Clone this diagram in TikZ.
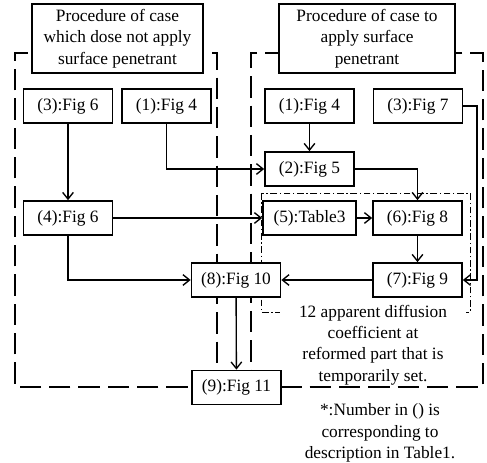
\documentclass[tikz,border=0pt]{standalone}
\usepackage{fontspec}
\setmainfont{Liberation Serif}
\usetikzlibrary{arrows.meta}

\begin{document}
\begin{tikzpicture}[x=0.75pt, y=-0.75pt,
	font=\fontsize{13}{16}\selectfont,
	box/.style={draw, line width=1.3pt, fill=white, inner sep=0pt,
		minimum width=66.75pt, minimum height=25.5pt},
	title/.style={box, align=center, minimum height=51.75pt},
	arr/.style={-{Straight Barb[length=5pt, width=8pt]}, line width=1pt},
	region/.style={line width=2.2pt, dash pattern=on 16pt off 6pt},
	reform/.style={line width=0.6pt, dash pattern=on 5pt off 2pt on 1pt off 2pt}
]
\useasboundingbox (0, 0) rectangle (487, 463);

% part reformed by the penetrant
\draw[reform] (261, 193) rectangle (470, 312);
\node[fill=white, align=center, inner sep=0pt, minimum width=140pt] (note) at (373, 345)
	{12 apparent diffusion\\coefficient at\\reformed part that is\\temporarily set.};

% the two procedures
\draw[region] (217, 387) -- (15, 387) -- (15, 53) -- (217, 53) -- cycle;
\draw[region] (251, 387) -- (483, 387) -- (483, 53) -- (251, 53) -- cycle;

\node[title, minimum width=128.25pt] (tL) at (117.5, 38.5)
	{Procedure of case\\which dose not apply\\surface penetrant};
\node[title, minimum width=132pt] (tR) at (367, 38.5)
	{Procedure of case to\\apply surface\\penetrant};

\node[box] (a3) at (68, 106) {(3):Fig 6};
\node[box] (a1) at (166.5, 106) {(1):Fig 4};
\node[box] (b1) at (309.5, 106) {(1):Fig 4};
\node[box] (b3) at (418, 106) {(3):Fig 7};
\node[box] (b2) at (309.5, 169) {(2):Fig 5};
\node[box] (a4) at (68, 218) {(4):Fig 6};
\node[box, minimum width=69.75pt] (b5) at (309.5, 218) {(5):Table3};
\node[box] (b6) at (417.5, 218) {(6):Fig 8};
\node[box] (b7) at (417.5, 280) {(7):Fig 9};
\node[box] (c8) at (236, 280) {(8):Fig 10};
\node[box] (c9) at (236.5, 387.5) {(9):Fig 11};
\coordinate (turn) at (477, 106);

\draw[arr] (a3) -- (a4);
\draw[arr] (a1) |- (b2);
\draw[arr] (b1) -- (b2);
\draw[arr] (b2) -| (b6);
\draw[arr] (a4) -- (b5);
\draw[arr] (a4) |- (c8);
\draw[arr] (b5) -- (b6);
\draw[arr] (b6) -- (b7);
\draw[arr] (b7) -- (c8);
\draw[arr] (b3) -- (turn) |- (b7);
\draw[arr] (c8) -- (c9);

\node[align=center] (foot) at (380, 433)
	{*:Number in () is\\corresponding to\\description in Table1.};
\end{tikzpicture}
\end{document}
